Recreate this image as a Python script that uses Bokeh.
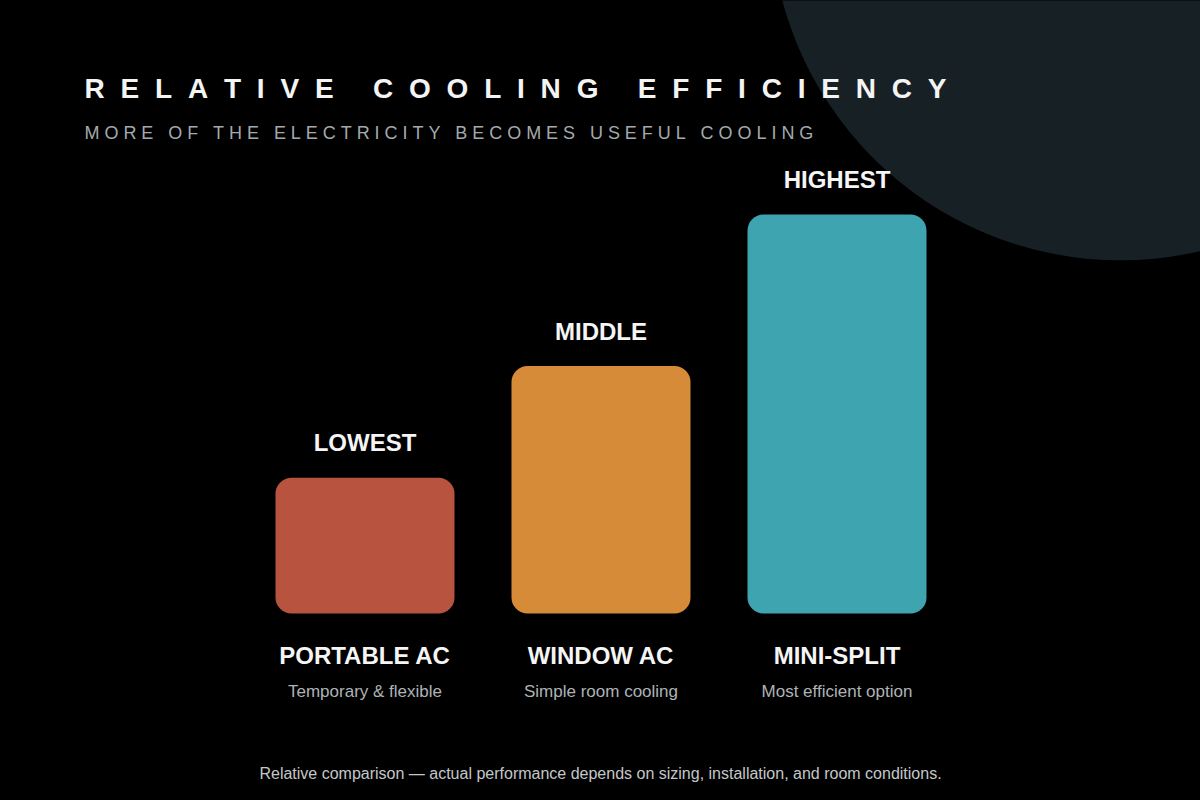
from bokeh.plotting import figure
from bokeh.models import Range1d, ColumnDataSource, GlobalInlineStyleSheet
from bokeh.core.properties import value
from bokeh.embed import file_html
from bokeh.resources import INLINE

# ---------------- data ----------------
categories = ["PORTABLE AC", "WINDOW AC", "MINI-SPLIT"]
descriptions = ["Temporary & flexible", "Simple room cooling", "Most efficient option"]
levels = ["LOWEST", "MIDDLE", "HIGHEST"]
efficiency = [34, 62, 100]
bar_colors = ["#b8533f", "#d68b38", "#3ea4b0"]
title_text = "RELATIVE COOLING EFFICIENCY"
subtitle_text = "MORE OF THE ELECTRICITY BECOMES USEFUL COOLING"
footnote_text = "Relative comparison \u2014 actual performance depends on sizing, installation, and room conditions."

# ---------------- layout ----------------
W, H = 1200, 800
FONT = "Liberation Sans"
base_px = 613          # screen y of the bar baseline
ppu = 399 / 100.0      # pixels per efficiency unit
step_px = 236          # pixel distance between category centres
bar_w_px = 179
centre_px = 600.5      # screen x of middle category

y_start = -(H - base_px) / ppu
y_end = base_px / ppu
mid = (len(categories) - 1) / 2.0
x_start = mid - centre_px / step_px
x_end = mid + (W - centre_px) / step_px

p = figure(width=W, height=H, output_backend="svg", toolbar_location=None,
           x_range=Range1d(x_start, x_end), y_range=Range1d(y_start, y_end),
           x_axis_location=None, y_axis_location=None,
           background_fill_color="#000000", border_fill_color="#000000",
           outline_line_color=None, min_border=0)
p.xgrid.visible = False
p.ygrid.visible = False
p.extra_x_ranges = {"px": Range1d(0, W)}
p.extra_y_ranges = {"px": Range1d(H, 0)}
p.stylesheets = [GlobalInlineStyleSheet(
    css="html, body {margin:0 !important; padding:0; background:#000000; overflow:hidden;}")]

# decorative circle top-right
p.circle(x=[1120], y=[-90], radius=350, x_range_name="px", y_range_name="px",
         fill_color="#172025", line_color=None)

# bars
src = ColumnDataSource(dict(pos=list(range(len(categories))), cat=categories,
                            val=efficiency, color=bar_colors,
                            level=levels, desc=descriptions,
                            lab_y=[v + 35 / ppu for v in efficiency]))
p.vbar(x="pos", top="val", bottom=0, width=bar_w_px / step_px, source=src,
       fill_color="color", line_color=None, border_radius=16)

# level labels above bars
p.text(x="pos", y="lab_y", text="level", source=src, text_align="center",
       text_baseline="alphabetic", text_font=value(FONT), text_font_style="bold",
       text_font_size="24px", text_color="#f5f5f5")

# category names and descriptions
p.text(x="pos", y=655, text="cat", source=src, y_range_name="px",
       text_align="center", text_baseline="alphabetic", text_font=value(FONT),
       text_font_style="bold", text_font_size="24px", text_color="#f5f5f5")
p.text(x="pos", y=691, text="desc", source=src, y_range_name="px",
       text_align="center", text_baseline="alphabetic", text_font=value(FONT),
       text_font_size="17px", text_color="#aeb3b6")

# letter-spaced title / subtitle (Arial-metric advance widths, per 1000 em)
BOLD = {"A": 722, "C": 722, "E": 667, "F": 611, "G": 778, "I": 278, "L": 611,
        "N": 722, "O": 778, "R": 722, "T": 611, "V": 667, "Y": 667, " ": 278}
REG = {"B": 667, "C": 722, "E": 667, "F": 611, "G": 778, "H": 722, "I": 278,
       "L": 556, "M": 833, "N": 722, "O": 778, "R": 722, "S": 667, "T": 611,
       "U": 722, "Y": 667, " ": 278}


def spaced(s, x0, size, ls, widths):
    xs, chars = [], []
    x = x0
    for ch in s:
        if ch != " ":
            xs.append(x)
            chars.append(ch)
        x += widths[ch] / 1000.0 * size + ls
    return xs, chars


tx, tc = spaced(title_text, 84, 28, 15.8, BOLD)
p.text(x=tx, y=[88] * len(tx), text=tc, x_range_name="px", y_range_name="px",
       text_align="left", text_baseline="alphabetic", text_font=value(FONT),
       text_font_style="bold", text_font_size="28px", text_color="#f4f4f4")

sx, sc = spaced(subtitle_text, 84, 18, 4.95, REG)
p.text(x=sx, y=[132] * len(sx), text=sc, x_range_name="px", y_range_name="px",
       text_align="left", text_baseline="alphabetic", text_font=value(FONT),
       text_font_size="18px", text_color="#a3aaad")

# footnote
p.text(x=[W / 2], y=[773], text=[footnote_text], x_range_name="px", y_range_name="px",
       text_align="center", text_baseline="alphabetic", text_font=value(FONT),
       text_font_size="16px", text_color="#c4c7c9")

open("out.html", "w").write(file_html(p, INLINE))
